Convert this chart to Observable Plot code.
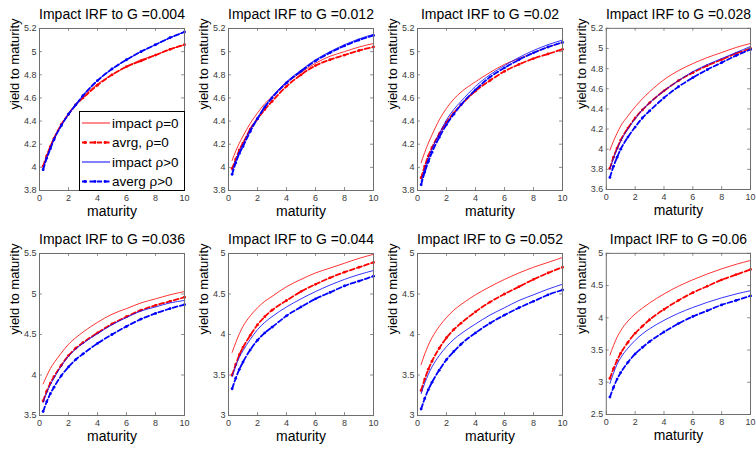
<!DOCTYPE html>
<html><head><meta charset="utf-8">
<script src="https://cdn.jsdelivr.net/npm/d3@7"></script>
<script src="https://cdn.jsdelivr.net/npm/@observablehq/plot@0.6"></script>
<style>
body{margin:0;background:#fff}
#fig{position:relative;width:756px;height:449px;font-family:"Liberation Sans",Arial,sans-serif;overflow:hidden}
.panel{position:absolute}
</style>
</head><body><div id="fig"></div>
<script>
const maturity = [0.25,0.5,0.75,1,1.5,2,2.5,3,4,5,6,7,8,9,10];
const shockSize = ["0.004","0.012","0.02","0.028","0.036","0.044","0.052","0.06"];

const impactRho0 = [
  [4.00,4.10,4.18,4.25,4.37,4.46,4.54,4.61,4.72,4.80,4.87,4.93,4.97,5.02,5.06],
  [4.06,4.14,4.21,4.27,4.38,4.47,4.55,4.61,4.73,4.82,4.90,4.96,5.00,5.04,5.07],
  [4.04,4.13,4.21,4.28,4.41,4.51,4.59,4.65,4.74,4.82,4.89,4.94,4.99,5.04,5.08],
  [3.99,4.08,4.16,4.23,4.33,4.42,4.50,4.57,4.69,4.78,4.85,4.91,4.96,5.01,5.05],
  [3.89,3.99,4.08,4.15,4.27,4.38,4.46,4.53,4.65,4.75,4.82,4.89,4.94,4.99,5.03],
  [3.78,3.90,4.01,4.10,4.23,4.33,4.41,4.47,4.59,4.68,4.76,4.82,4.88,4.94,4.99],
  [3.63,3.76,3.87,3.96,4.10,4.21,4.30,4.37,4.49,4.59,4.68,4.76,4.83,4.89,4.95],
  [3.42,3.57,3.70,3.80,3.95,4.06,4.15,4.23,4.37,4.49,4.59,4.68,4.76,4.83,4.89]
];
const avrgRho0 = [
  [4.01,4.10,4.18,4.25,4.37,4.46,4.54,4.60,4.71,4.80,4.87,4.92,4.97,5.02,5.06],
  [3.99,4.07,4.15,4.21,4.33,4.42,4.50,4.57,4.70,4.80,4.88,4.93,4.97,5.01,5.04],
  [3.91,4.01,4.10,4.17,4.29,4.39,4.47,4.54,4.66,4.75,4.83,4.89,4.94,4.98,5.02],
  [3.81,3.92,4.01,4.09,4.21,4.31,4.39,4.46,4.58,4.68,4.76,4.83,4.89,4.95,5.00],
  [3.68,3.80,3.90,3.98,4.12,4.24,4.33,4.40,4.52,4.63,4.72,4.80,4.86,4.91,4.96],
  [3.50,3.63,3.75,3.84,3.99,4.12,4.22,4.30,4.42,4.53,4.62,4.70,4.77,4.83,4.89],
  [3.31,3.45,3.57,3.67,3.83,3.96,4.06,4.14,4.28,4.40,4.50,4.59,4.68,4.76,4.83],
  [3.06,3.21,3.34,3.45,3.62,3.76,3.87,3.97,4.13,4.27,4.39,4.49,4.59,4.67,4.75]
];
const impactRhoPos = [
  [3.99,4.09,4.17,4.24,4.36,4.46,4.54,4.62,4.75,4.85,4.93,5.00,5.06,5.12,5.17],
  [3.97,4.06,4.14,4.20,4.33,4.43,4.53,4.61,4.74,4.84,4.93,5.00,5.06,5.11,5.15],
  [3.88,3.99,4.08,4.16,4.29,4.41,4.50,4.57,4.70,4.80,4.88,4.95,5.01,5.06,5.10],
  [3.80,3.91,4.00,4.08,4.20,4.30,4.39,4.46,4.58,4.68,4.77,4.84,4.90,4.96,5.02],
  [3.66,3.78,3.88,3.96,4.11,4.23,4.32,4.39,4.51,4.62,4.71,4.79,4.84,4.89,4.92],
  [3.48,3.61,3.72,3.80,3.94,4.06,4.15,4.22,4.34,4.44,4.53,4.61,4.68,4.74,4.79],
  [3.27,3.40,3.51,3.60,3.74,3.85,3.94,4.01,4.13,4.24,4.33,4.42,4.49,4.56,4.62],
  [2.98,3.14,3.28,3.38,3.53,3.65,3.75,3.83,3.96,4.07,4.16,4.24,4.31,4.37,4.42]
];
const avergRhoPos = [
  [3.98,4.08,4.16,4.24,4.36,4.46,4.54,4.62,4.75,4.85,4.93,5.00,5.06,5.12,5.17],
  [3.94,4.04,4.12,4.18,4.31,4.42,4.52,4.60,4.73,4.83,4.92,4.99,5.05,5.10,5.14],
  [3.85,3.96,4.05,4.13,4.26,4.37,4.46,4.54,4.67,4.78,4.86,4.93,4.99,5.04,5.08],
  [3.72,3.83,3.92,4.00,4.12,4.22,4.31,4.38,4.51,4.62,4.71,4.79,4.86,4.93,4.99],
  [3.55,3.67,3.77,3.85,3.99,4.10,4.19,4.26,4.39,4.50,4.60,4.69,4.76,4.82,4.87],
  [3.33,3.46,3.57,3.66,3.81,3.93,4.02,4.09,4.23,4.34,4.44,4.52,4.60,4.66,4.72],
  [3.08,3.21,3.32,3.41,3.56,3.69,3.79,3.88,4.02,4.14,4.24,4.33,4.41,4.49,4.55],
  [2.77,2.92,3.05,3.15,3.31,3.44,3.54,3.63,3.78,3.91,4.02,4.11,4.20,4.27,4.34]
];

const yTicks = [
  [3.8,4,4.2,4.4,4.6,4.8,5,5.2],
  [3.8,4,4.2,4.4,4.6,4.8,5,5.2],
  [3.8,4,4.2,4.4,4.6,4.8,5,5.2],
  [3.6,3.8,4,4.2,4.4,4.6,4.8,5,5.2],
  [3.5,4,4.5,5,5.5],
  [3,3.5,4,4.5,5],
  [3,3.5,4,4.5,5],
  [2.5,3,3.5,4,4.5,5]
];
const xTicks = [0,2,4,6,8,10];
const legendLabels = ["impact \u03c1=0","avrg, \u03c1=0","impact \u03c1>0","averg \u03c1>0"];
const titlePrefix = "Impact IRF to G =";
const xLabel = "maturity";
const yLabel = "yield to maturity";

const FONT = '"Liberation Sans", Arial, sans-serif';
const RED = "#ff0000", BLUE = "#0000ff", FRAME = "#6e6e6e";
const fig = document.getElementById("fig");
const lefts = [0,189,378,567], tops = [0,225];

function rows(arr){ return maturity.map((m,i)=>({x:m,y:arr[i]})); }

for (let p=0;p<8;p++){
  const ticks = yTicks[p];
  const y0 = ticks[0], y1 = ticks[ticks.length-1];
  const tl = (y1-y0)*0.018, tx = 10*0.02;
  const curve = "monotone-x";
  const chart = Plot.plot({
    width:190, height:224,
    marginLeft:39, marginRight:6, marginTop:28, marginBottom:34,
    style:{fontFamily:FONT, fontSize:"9px", color:"#3a3a3a", background:"transparent", overflow:"visible"},
    x:{domain:[0,10], ticks:xTicks, tickSize:0, tickPadding:4, label:null, tickFormat:d=>String(d)},
    y:{domain:[y0,y1], ticks:ticks, tickSize:0, tickPadding:3, label:null, tickFormat:d=>String(d)},
    marks:[
      Plot.line(rows(impactRho0[p]), {x:"x", y:"y", stroke:RED, strokeWidth:0.8, curve}),
      Plot.line(rows(avrgRho0[p]), {x:"x", y:"y", stroke:RED, strokeWidth:1.8, strokeDasharray:"5,2.5", curve}),
      Plot.dot(rows(avrgRho0[p]), {x:"x", y:"y", r:1.4, fill:RED, stroke:null}),
      Plot.line(rows(impactRhoPos[p]), {x:"x", y:"y", stroke:BLUE, strokeWidth:0.8, curve}),
      Plot.line(rows(avergRhoPos[p]), {x:"x", y:"y", stroke:BLUE, strokeWidth:1.8, strokeDasharray:"5,2.5", curve}),
      Plot.dot(rows(avergRhoPos[p]), {x:"x", y:"y", r:1.4, fill:BLUE, stroke:null}),
      Plot.ruleX(xTicks, {x:d=>d, y1:y0, y2:y0+tl, stroke:FRAME, strokeWidth:0.8}),
      Plot.ruleX(xTicks, {x:d=>d, y1:y1, y2:y1-tl, stroke:FRAME, strokeWidth:0.8}),
      Plot.ruleY(ticks, {y:d=>d, x1:0, x2:tx, stroke:FRAME, strokeWidth:0.8}),
      Plot.ruleY(ticks, {y:d=>d, x1:10, x2:10-tx, stroke:FRAME, strokeWidth:0.8}),
      Plot.frame({stroke:FRAME, strokeWidth:1}),
      Plot.text([titlePrefix+shockSize[p]], {frameAnchor:"top", dy:-14, fontSize:14, fontFamily:FONT, fill:"black", lineAnchor:"middle", text:d=>d}),
      Plot.text([xLabel], {frameAnchor:"bottom", dy:21, fontSize:14, fontFamily:FONT, fill:"black", lineAnchor:"middle", text:d=>d}),
      Plot.text([yLabel], {frameAnchor:"left", dx:-25, rotate:-90, fontSize:13, fontFamily:FONT, fill:"black", lineAnchor:"middle", text:d=>d})
    ]
  });
  const div = document.createElement("div");
  div.className = "panel";
  div.style.left = lefts[p%4]+"px";
  div.style.top = tops[Math.floor(p/4)]+"px";
  div.appendChild(chart);
  fig.appendChild(div);
}

// legend in first panel
const lg = d3.select(fig).append("svg")
  .attr("width",106).attr("height",80)
  .style("position","absolute").style("left","79px").style("top","111px");
lg.append("rect").attr("x",0.5).attr("y",0.5).attr("width",105).attr("height",79)
  .attr("fill","white").attr("stroke","black").attr("stroke-width",1);
const styles = [
  {c:RED, w:0.9, dash:null, dots:false},
  {c:RED, w:1.8, dash:"5,2.5", dots:true},
  {c:"#8080ff", w:2, dash:null, dots:false},
  {c:BLUE, w:1.8, dash:"5,2.5", dots:true}
];
legendLabels.forEach((t,i)=>{
  const cy = 12 + i*19.5;
  const s = styles[i];
  lg.append("line").attr("x1",3).attr("x2",31).attr("y1",cy).attr("y2",cy)
    .attr("stroke",s.c).attr("stroke-width",s.w).attr("stroke-dasharray",s.dash);
  if (s.dots) [6,16,26].forEach(x=>lg.append("circle").attr("cx",x).attr("cy",cy).attr("r",1.4).attr("fill",s.c));
  lg.append("text").attr("x",33).attr("y",cy).attr("dy","0.35em")
    .attr("font-family",FONT).attr("font-size",13.5).attr("fill","black").text(t);
});
</script>
</body></html>
